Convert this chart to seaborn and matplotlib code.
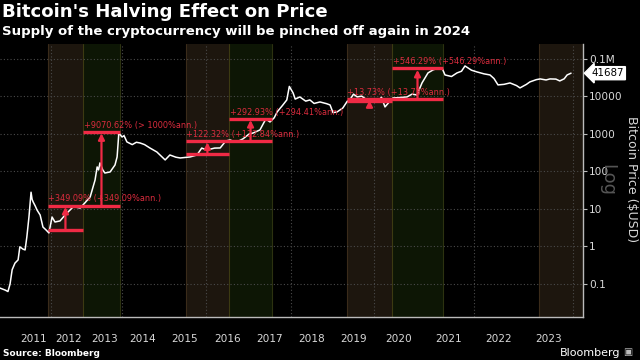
import numpy as np
import pandas as pd
import matplotlib
matplotlib.use("Agg")
import matplotlib.pyplot as plt
import matplotlib.transforms as mtransforms
import seaborn as sns

# ---------------- data ----------------
dates = [2010.54, 2010.69, 2010.77, 2010.83, 2010.89, 2010.97, 2011.06, 2011.11, 2011.20, 2011.26,
         2011.31, 2011.37, 2011.43, 2011.46, 2011.49, 2011.55, 2011.60, 2011.69, 2011.77, 2011.86,
         2011.94, 2012.03, 2012.11, 2012.25, 2012.39, 2012.53, 2012.62, 2012.67, 2012.81, 2012.94,
         2013.09, 2013.23, 2013.29, 2013.33, 2013.37, 2013.45, 2013.51, 2013.66, 2013.80, 2013.86,
         2013.91, 2014.00, 2014.05, 2014.12, 2014.25, 2014.35, 2014.44, 2014.55, 2014.68, 2014.85,
         2015.05, 2015.16, 2015.30, 2015.40, 2015.63, 2015.79, 2015.90, 2016.02, 2016.20, 2016.33,
         2016.46, 2016.56, 2016.70, 2016.86, 2017.00, 2017.10, 2017.26, 2017.40, 2017.50, 2017.60,
         2017.67, 2017.80, 2017.90, 2017.96, 2018.05, 2018.10, 2018.21, 2018.35, 2018.45, 2018.55,
         2018.69, 2018.85, 2018.93, 2019.00, 2019.10, 2019.24, 2019.35, 2019.41, 2019.50, 2019.59,
         2019.70, 2019.83, 2019.95, 2020.06, 2020.15, 2020.22, 2020.30, 2020.38, 2020.50, 2020.66,
         2020.76, 2020.86, 2020.96, 2021.08, 2021.18, 2021.30, 2021.36, 2021.42, 2021.55, 2021.66,
         2021.75, 2021.82, 2021.95, 2022.06, 2022.20, 2022.32, 2022.40, 2022.48, 2022.60, 2022.72,
         2022.85, 2022.92, 2023.05, 2023.12, 2023.25, 2023.33, 2023.45, 2023.53, 2023.65, 2023.73,
         2023.82, 2023.88, 2023.96]
prices = [0.078, 0.069, 0.063, 0.10, 0.24, 0.36, 0.44, 0.98, 0.85, 0.81,
          1.8, 6.1, 28, 18, 15.4, 12, 9.4, 6.9, 3.3, 2.75,
          2.3, 6.1, 4.5, 4.8, 6.9, 9.4, 11.5, 11.3, 10.6, 14.5,
          20.9, 59, 132, 110, 169, 110, 91, 97, 149, 244,
          1063, 832, 900, 613, 520, 600, 575, 520, 423, 331,
          203, 275, 240, 229, 244, 275, 420, 374, 420, 423,
          650, 692, 600, 740, 990, 1063, 1279, 2500, 2089, 2700,
          3862, 5800, 8070, 18500, 12400, 8500, 9700, 7500, 8070, 6500,
          7130, 6400, 5930, 3700, 3862, 4930, 7500, 8070, 11500, 9700,
          10200, 8070, 7200, 7130, 9500, 5250, 7000, 9120, 9300, 9700,
          11500, 10960, 22900, 42400, 50900, 58000, 57500, 37400, 34000, 42400,
          47000, 65000, 50000, 45000, 40000, 37400, 30000, 20300, 21000, 22900,
          19500, 16900, 21000, 24400, 28000, 29300, 27500, 29300, 29000, 25900,
          29500, 37400, 41687]

band_start = [2011.91, 2015.53, 2019.34, 2023.31]
halving_dates = [2012.89, 2016.535, 2020.36, 2024.30]
band_end = [2013.94, 2017.55, 2021.38, 2025.30]

pre_prices = [2.75, 293, 7560]
halv_prices = [12.35, 651, 8600]
post_prices = [1133, 2558, 55580]
labels_pre = ["+349.09% (+349.09%ann.)", "+122.32% (+122.84%ann.)", "+13.73% (+13.73%ann.)"]
labels_post = ["+9070.62% (> 1000%ann.)", "+292.93% (+294.41%ann.)", "+546.29% (+546.29%ann.)"]

year_labels = [str(y) for y in range(2011, 2024)]
y_ticks = [0.1, 1, 10, 100, 1000, 10000, 100000]
y_ticklabels = ["0.1", "1", "10", "100", "1000", "10000", "0.1M"]
last_value = 41687

# ---------------- axis geometry (Bloomberg uneven date axis) ----------------
AX_YEARS = np.arange(2010, 2026, dtype=float)
AX_PIX = np.array([-19, 16, 51, 87, 122, 163, 206, 249, 291, 333, 374, 424, 474, 524, 573, 622], dtype=float)

def fwd(x):
    return np.interp(x, AX_YEARS, AX_PIX)

def inv(p):
    return np.interp(p, AX_PIX, AX_YEARS)

# ---------------- style ----------------
sns.set_theme(style="dark", rc={
    "axes.facecolor": "black", "figure.facecolor": "black",
    "axes.edgecolor": "#aaaaaa", "text.color": "white",
    "xtick.color": "#bbbbbb", "ytick.color": "#bbbbbb",
})
plt.rcParams["font.family"] = ["DejaVu Sans"]

RED = "#f02a45"
TRED = "#dc2c3e"
BROWN = "#1d160e"
GREEN = "#0d1605"
GRID = "#4a4a4a"

fig = plt.figure(figsize=(6.4, 3.6), dpi=100)
ax = fig.add_axes([0, 1 - 317 / 360, 583 / 640, (317 - 44) / 360])
ax.set_xscale("function", functions=(fwd, inv))
ax.set_yscale("log")
ax.set_xlim(inv(0), inv(583))
ax.set_ylim(0.0132, 2.5e5)

# halving bands
for s, h, e in zip(band_start, halving_dates, band_end):
    ax.axvspan(s, h, color=BROWN, lw=0, zorder=0)
    ax.axvspan(h, e, color=GREEN, lw=0, zorder=0)
    ax.axvline(s, color="#3a2b1a", lw=0.8, zorder=0.5)
    ax.axvline(h, color="#3c3a12", lw=0.8, zorder=0.5)
    ax.axvline(e, color="#2c3210", lw=0.8, zorder=0.5)

# dotted grid
for yv in y_ticks:
    ax.axhline(yv, color=GRID, lw=0.8, ls=(0, (1, 2)), zorder=1)
for yr in range(2012, 2025, 2):
    ax.axvline(yr, color=GRID, lw=0.8, ls=(0, (1, 2)), zorder=1)

# price line
df = pd.DataFrame({"date": dates, "price": prices})
sns.lineplot(data=df, x="date", y="price", color="white", lw=1.1, ax=ax, zorder=3)

# red annotations
def mid(a, b):
    return float(inv((fwd(a) + fwd(b)) / 2))

for i in range(3):
    s, h, e = band_start[i], halving_dates[i], band_end[i]
    p0, p1, p2 = pre_prices[i], halv_prices[i], post_prices[i]
    ax.hlines(p0, s, h, color=RED, lw=2.4, zorder=4)
    ax.hlines(p1, s, e, color=RED, lw=2.4, zorder=4)
    ax.hlines(p2, h, e, color=RED, lw=2.4, zorder=4)
    for xa, lo, hi in [(mid(s, h), p0, p1), (mid(h, e), p1, p2)]:
        ax.annotate("", xy=(xa, hi), xytext=(xa, lo),
                    arrowprops=dict(arrowstyle="-|>", color=RED, lw=1.6,
                                    mutation_scale=9, shrinkA=0, shrinkB=1),
                    zorder=4)
    ax.annotate(labels_pre[i], xy=(s, p1), xytext=(0, 1.5), textcoords="offset points",
                color=TRED, fontsize=5.9, ha="left", va="bottom", zorder=5)
    ax.annotate(labels_post[i], xy=(h, p2), xytext=(1, 1.5), textcoords="offset points",
                color=TRED, fontsize=5.9, ha="left", va="bottom", zorder=5)

# axes styling
for side in ["left", "top"]:
    ax.spines[side].set_visible(False)
ax.spines["right"].set_color("#bbbbbb")
ax.spines["bottom"].set_color("#bbbbbb")
ax.spines["right"].set_linewidth(1)
ax.spines["bottom"].set_linewidth(1)
ax.grid(False)

ax.yaxis.tick_right()
ax.set_yticks(y_ticks)
ax.set_yticklabels(y_ticklabels)
ax.yaxis.set_minor_locator(matplotlib.ticker.NullLocator())
ax.tick_params(axis="y", which="major", length=3, width=0.8, pad=1.5,
               labelsize=7.6, labelcolor="#d8d8d8", color="#bbbbbb")
ax.set_ylabel("")
ax.set_xlabel("")

ax.set_xticks(list(range(2011, 2025)))
ax.set_xticklabels([""] * 14)
ax.set_xticks([y + 0.5 for y in range(2011, 2024)], minor=True)
ax.set_xticklabels(year_labels, minor=True)
ax.tick_params(axis="x", which="major", length=20, width=0.8, color="#777777")
ax.tick_params(axis="x", which="minor", length=0, pad=12, labelsize=7.6, labelcolor="#d8d8d8")

# right-side texts
fig.text(631 / 640, 1 - 179 / 360, "Bitcoin Price ($USD)", rotation=270,
         ha="center", va="center", fontsize=9, color="#d8d8d8")
fig.text(607 / 640, 1 - 180 / 360, "Log", rotation=270, ha="center", va="center",
         fontsize=13, color="#555555", zorder=0)

# last value tag
trans = mtransforms.blended_transform_factory(ax.transAxes, ax.transData)
ax.annotate(f"{last_value}", xy=(1, last_value), xycoords=trans,
            xytext=(6, 0), textcoords="offset points", ha="left", va="center",
            fontsize=7.4, color="black", annotation_clip=False,
            bbox=dict(boxstyle="larrow,pad=0.15", fc="white", ec="white"))

# titles (fitted to the reference widths)
title = fig.text(2 / 640, 1 - 12 / 360, "Bitcoin's Halving Effect on Price", fontsize=12,
                 fontweight="bold", color="white", ha="left", va="center")
subtitle = fig.text(2 / 640, 1 - 31 / 360,
                    "Supply of the cryptocurrency will be pinched off again in 2024",
                    fontsize=9.5, fontweight="bold", color="white", ha="left", va="center")
fig.canvas.draw()
r = fig.canvas.get_renderer()
for t, target in [(title, 327), (subtitle, 471)]:
    w = t.get_window_extent(r).width
    t.set_fontsize(t.get_fontsize() * target / w)

fig.text(3 / 640, 1 - 353 / 360, "Source: Bloomberg", fontsize=6.5, fontweight="bold",
         color="white", ha="left", va="center")
fig.text(620 / 640, 1 - 353 / 360, "Bloomberg", fontsize=8, color="white",
         ha="right", va="center")
fig.text(623 / 640, 1 - 352 / 360, "\u25a3", fontsize=7, color="#bbbbbb",
         ha="left", va="center")

fig.savefig("out.png", dpi=100, facecolor="black")
